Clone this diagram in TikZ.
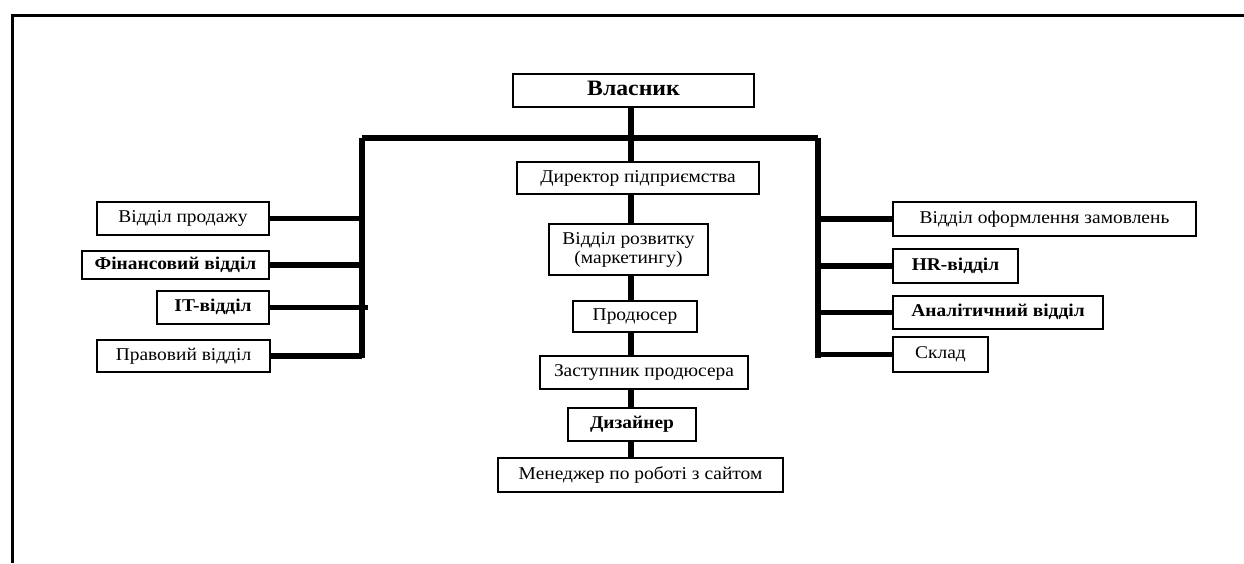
\documentclass[tikz,border=0pt]{standalone}
\usepackage{fontspec}
\setmainfont{Liberation Serif}[FakeStretch=1.08]
\begin{document}
\begin{tikzpicture}[x=1pt,y=-1pt,
  base/.style={draw=black,line width=1.6pt,fill=white,inner sep=0pt,
     font=\fontsize{18}{19}\selectfont,align=center},
  box/.style={base,text height=12pt,text depth=4pt},
  bbox/.style={box,font=\fontsize{18}{19}\selectfont\bfseries},
  heavy/.style={line width=6.5pt},
  side/.style={line width=5.5pt},
  frame/.style={line width=3pt}]
\useasboundingbox (0,0) rectangle (1244,563);
% frame
\coordinate (f1) at (12,563);
\coordinate (f2) at (12,15);
\coordinate (f3) at (1244,15);
\draw[frame] (f1) -- (f2) -- (f3);
% bus
\coordinate (bl) at (362,138);
\coordinate (br) at (818,138);
\coordinate (blb) at (362,358);
\coordinate (brb) at (818,358);
\coordinate (cx) at (631,0);
\coordinate (itstub) at (368,0);
\draw[heavy] (bl) -- (br);
\draw[heavy] (bl) -- (blb);
\draw[heavy] (br) -- (brb);
% centre column
\node[bbox,minimum width=241pt,minimum height=33pt,text height=15pt,text depth=5pt,font=\fontsize{22}{24}\selectfont\bfseries] (vl) at (633.5,90.5) {Власник};
\node[box,minimum width=242pt,minimum height=32pt] (dir) at (638,178) {Директор підприємства};
\node[base,minimum width=159pt,minimum height=51pt] (roz) at (628.5,249.5) {Відділ розвитку\\(маркетингу)};
\node[box,minimum width=124pt,minimum height=31pt] (prod) at (635,316.5) {Продюсер};
\node[box,minimum width=208pt,minimum height=33pt] (zast) at (644,372.5) {Заступник продюсера};
\node[bbox,minimum width=128pt,minimum height=33pt] (diz) at (632,424.5) {Дизайнер};
\node[box,minimum width=285pt,minimum height=34pt] (men) at (640.5,475) {Менеджер по роботі з сайтом};
\draw[heavy] (vl.south -| cx) -- (dir.north -| cx);
\draw[heavy] (dir.south -| cx) -- (roz.north -| cx);
\draw[heavy] (roz.south -| cx) -- (prod.north -| cx);
\draw[heavy] (prod.south -| cx) -- (zast.north -| cx);
\draw[heavy] (zast.south -| cx) -- (diz.north -| cx);
\draw[heavy] (diz.south -| cx) -- (men.north -| cx);
% left
\node[box,minimum width=172pt,minimum height=33pt] (prodazh) at (183,218.5) {Відділ продажу};
\node[bbox,minimum width=187pt,minimum height=28pt] (fin) at (175.5,265) {Фінансовий відділ};
\node[bbox,minimum width=112pt,minimum height=33pt] (it) at (213,307.5) {IT-відділ};
\node[box,minimum width=173pt,minimum height=32pt] (prav) at (183.5,356) {Правовий відділ};
\draw[side] (prodazh.east) -- (prodazh.east -| bl);
\draw[side] (fin.east) -- (fin.east -| bl);
\draw[side] (it.east) -- (it.east -| itstub);
\draw[side] (prav.east) -- (prav.east -| bl);
% right
\node[box,minimum width=303pt,minimum height=34pt] (ofor) at (1044.5,219) {Відділ оформлення замовлень};
\node[bbox,minimum width=125pt,minimum height=34pt] (hr) at (955.5,266) {HR-відділ};
\node[bbox,minimum width=210pt,minimum height=33pt] (anal) at (998,312.5) {Аналітичний відділ};
\node[box,minimum width=95pt,minimum height=35pt] (sklad) at (940.5,354.5) {Склад};
\draw[side] (ofor.west) -- (ofor.west -| br);
\draw[side] (hr.west) -- (hr.west -| br);
\draw[side] (anal.west) -- (anal.west -| br);
\draw[side] (sklad.west) -- (sklad.west -| br);
\end{tikzpicture}
\end{document}
